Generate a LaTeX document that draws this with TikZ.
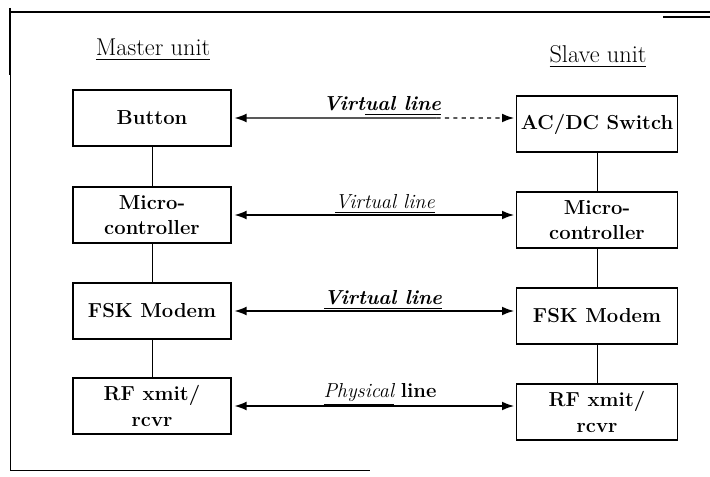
\documentclass[tikz,border=0pt]{standalone}
\usepackage{amsmath,amssymb}
\usetikzlibrary{arrows.meta,calc}

\begin{document}
\begin{tikzpicture}[x=0.025cm, y=-0.025cm, every node/.style={font=\Large},
	unitbox/.style={draw, line width=0.8pt, minimum width=3.95cm, minimum height=1.4cm, align=center, inner sep=2pt, font=\Large\bfseries},
	link/.style={line width=0.9pt},
	tip/.style={-{Latex[length=3mm,width=2.2mm]}},
	tips/.style={{Latex[length=3mm,width=2.2mm]}-{Latex[length=3mm,width=2.2mm]}}]
	\useasboundingbox (0,0) rectangle (710,477);
	% frame of the scanned page
	\draw[line width=1.2pt] (10,12) -- (710,12);
	\draw[line width=1pt] (663,17) -- (710,17);
	\draw[line width=1.2pt] (10,8) -- (10,75);
	\draw[line width=0.6pt] (10,75) -- (10,470) -- (370,470);
	% unit titles
	\node[font=\LARGE] (mtitle) at (153,50) {\underline{Master unit}};
	\node[font=\LARGE] (stitle) at (598,57) {\underline{Slave unit}};
	% boxes of both units
	\foreach \nm/\y/\txt in {mbtn/118/Button, mmcu/215/{Micro-\\controller}, mfsk/311/FSK Modem, mrf/406/{RF xmit/\\rcvr}} {
		\node[unitbox] (\nm) at (152,\y) {\txt};
	}
	\foreach \nm/\y/\txt in {sacdc/124/{AC/DC Switch}, smcu/220/{Micro-\\controller}, sfsk/316/FSK Modem, srf/412/{RF xmit/\\rcvr}} {
		\node[unitbox, minimum width=4.02cm] (\nm) at (597,\y) {\txt};
	}
	\foreach \a/\b in {mbtn/mmcu, mmcu/mfsk, mfsk/mrf, sacdc/smcu, smcu/sfsk, sfsk/srf} {
		\draw[line width=0.6pt] (\a) -- (\b);
	}
	% lines between the units
	\coordinate (vbreak) at ($(mbtn.east)!0.72!(mbtn.east -| sacdc.west)$);
	\draw[link, tip] (vbreak) -- ($(mbtn.east)+(3,0)$);
	\draw[link, tip, dashed] (vbreak) -- ($(mbtn.east -| sacdc.west)+(-2,0)$);
	\draw[link, tips] ($(mmcu.east)+(3,0)$) -- ($(mmcu.east -| smcu.west)+(-2,0)$);
	\draw[link, tips] ($(mfsk.east)+(3,0)$) -- ($(mfsk.east -| sfsk.west)+(-2,0)$);
	\draw[link, tips] ($(mrf.east)+(3,0)$) -- ($(mrf.east -| srf.west)+(-2,0)$);
	\node[font=\Large\bfseries\itshape] (lbl1) at (382,106) {Virt\underline{ual line}};
	\node[font=\Large\itshape] (lbl2) at (385,204) {\underline{Virtual line}};
	\node[font=\Large\bfseries\itshape] (lbl3) at (383,300) {\underline{Virtual line}};
	\node (lbl4) at (380,395) {\underline{\itshape Physical} \textbf{line}};
\end{tikzpicture}
\end{document}
